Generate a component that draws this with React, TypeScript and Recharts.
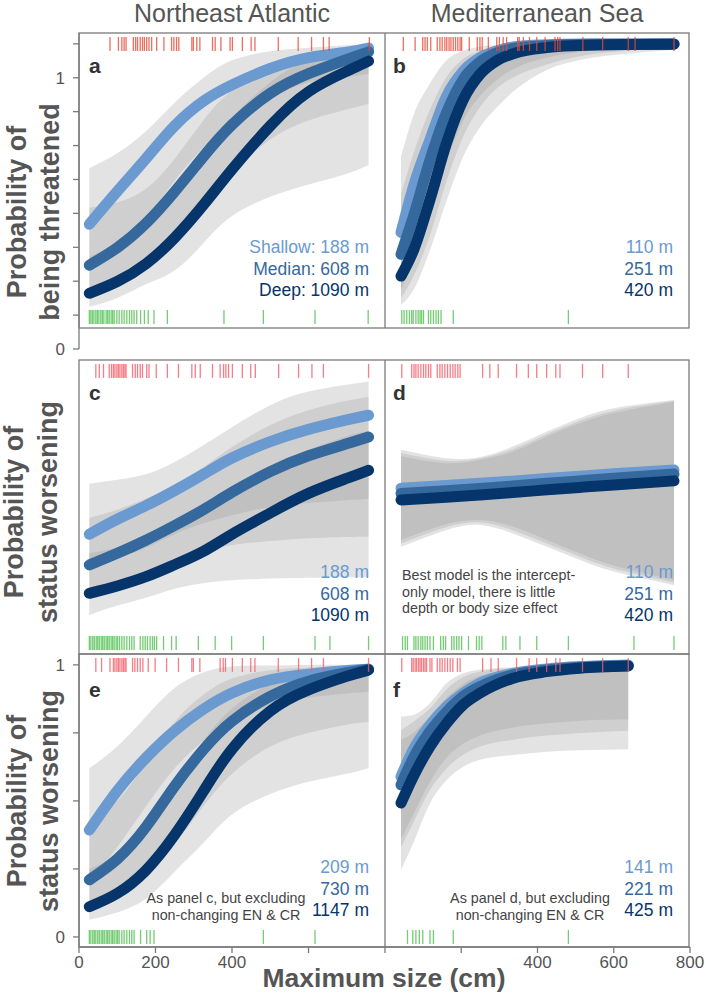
import React from "react";
import { Area, ComposedChart, Line, Scatter, XAxis, YAxis } from "recharts";

const FONT = '"Liberation Sans", Arial, Helvetica, sans-serif';
const AXIS = "#7a7a7a";
const BAND = "#999999";
const SHALLOW = "#6a9ad0";
const MEDIAN = "#35699d";
const DEEP = "#05356a";
const RED_TOP = "#e64a36";
const RED_LOW = "#f25c68";
const GREEN = "#4fbf4f";

// x ticks (cm) and probability ticks
const sizeTicks = [0, 200, 400, 600, 800];
const probTicks = [0, 0.25, 0.5, 0.75, 1];
const eighthTicks = [0, 0.125, 0.25, 0.375, 0.5, 0.625, 0.75, 0.875, 1, 1.125];

// ---------- Northeast Atlantic grid (a, c, e) ----------
const atlanticSize = [27, 100, 175, 250, 325, 400, 500, 600, 700, 757];

// a: probability of being threatened, NE Atlantic
const aShallow = [0.34, 0.46, 0.58, 0.7, 0.79, 0.85, 0.91, 0.95, 0.97, 0.985];
const aMedian = [0.19, 0.254, 0.343, 0.459, 0.587, 0.704, 0.819, 0.891, 0.943, 0.971];
const aDeep = [0.087, 0.13, 0.195, 0.29, 0.41, 0.54, 0.7, 0.825, 0.9, 0.937];
const aShallowLo = [0.17, 0.25, 0.36, 0.5, 0.62, 0.71, 0.8, 0.86, 0.88, 0.89];
const aShallowHi = [0.545, 0.6, 0.68, 0.785, 0.875, 0.94, 0.973, 0.986, 0.995, 1.0];
const aMedianLo = [0.08, 0.12, 0.19, 0.28, 0.41, 0.53, 0.65, 0.72, 0.76, 0.78];
const aMedianHi = [0.4, 0.42, 0.47, 0.58, 0.72, 0.83, 0.92, 0.96, 0.985, 0.995];
const aDeepLo = [0.038, 0.07, 0.12, 0.17, 0.27, 0.37, 0.44, 0.485, 0.525, 0.557];
const aDeepHi = [0.22, 0.27, 0.34, 0.45, 0.6, 0.73, 0.86, 0.94, 0.97, 0.985];
const aRed = [81, 103, 112, 118, 123, 142, 148, 153, 160, 166, 171, 177, 183, 190, 203, 222, 242, 248, 255, 261, 295, 299, 308, 316, 349, 356, 371, 395, 401, 427, 450, 460, 521, 573, 608, 639, 654, 759];
const aGreen = [27, 31, 35, 39, 44, 48, 52, 57, 61, 65, 71, 75, 79, 84, 88, 92, 99, 105, 112, 118, 125, 132, 138, 144, 151, 161, 171, 181, 196, 231, 379, 482, 617, 756];

// c: probability of status worsening, NE Atlantic
const cShallow = [0.4, 0.455, 0.505, 0.56, 0.62, 0.68, 0.74, 0.785, 0.82, 0.837];
const cMedian = [0.287, 0.33, 0.378, 0.432, 0.49, 0.554, 0.63, 0.688, 0.732, 0.757];
const cDeep = [0.183, 0.21, 0.244, 0.288, 0.337, 0.4, 0.478, 0.55, 0.605, 0.635];
const cShallowLo = [0.27, 0.31, 0.35, 0.4, 0.44, 0.47, 0.5, 0.515, 0.525, 0.529];
const cShallowHi = [0.585, 0.6, 0.62, 0.665, 0.727, 0.793, 0.874, 0.924, 0.949, 0.96];
const cMedianLo = [0.17, 0.21, 0.25, 0.29, 0.33, 0.36, 0.375, 0.385, 0.39, 0.391];
const cMedianHi = [0.46, 0.49, 0.53, 0.58, 0.645, 0.72, 0.8, 0.855, 0.89, 0.904];
const cDeepLo = [0.103, 0.138, 0.167, 0.2, 0.22, 0.231, 0.237, 0.24, 0.242, 0.243];
const cDeepHi = [0.33, 0.35, 0.38, 0.42, 0.48, 0.55, 0.64, 0.71, 0.76, 0.78];
const cRed = [44, 53, 64, 79, 85, 90, 94, 99, 103, 107, 112, 116, 120, 123, 140, 147, 153, 160, 166, 177, 183, 202, 231, 260, 295, 304, 317, 349, 369, 378, 384, 391, 401, 427, 449, 461, 522, 574, 609, 639, 757];
const cGreen = [27, 31, 36, 40, 45, 49, 53, 58, 62, 66, 71, 75, 79, 84, 88, 92, 97, 101, 106, 112, 118, 125, 132, 138, 144, 160, 167, 173, 179, 186, 192, 197, 203, 221, 242, 254, 312, 356, 399, 482, 617, 656, 757];

// e: status worsening excluding non-changing EN & CR, NE Atlantic
const eShallow = [0.393, 0.537, 0.658, 0.758, 0.837, 0.897, 0.945, 0.966, 0.979, 0.984];
const eMedian = [0.21, 0.286, 0.404, 0.554, 0.688, 0.793, 0.884, 0.94, 0.971, 0.984];
const eDeep = [0.111, 0.16, 0.245, 0.375, 0.535, 0.69, 0.83, 0.908, 0.958, 0.981];
const eShallowLo = [0.2, 0.33, 0.48, 0.62, 0.72, 0.79, 0.85, 0.88, 0.895, 0.9];
const eShallowHi = [0.62, 0.7, 0.81, 0.915, 0.972, 0.994, 0.998, 1.0, 1.0, 1.0];
const eMedianLo = [0.09, 0.14, 0.22, 0.34, 0.48, 0.6, 0.7, 0.75, 0.78, 0.79];
const eMedianHi = [0.42, 0.5, 0.64, 0.79, 0.89, 0.95, 0.98, 0.99, 0.996, 0.998];
const eDeepLo = [0.063, 0.09, 0.14, 0.24, 0.345, 0.45, 0.525, 0.57, 0.6, 0.62];
const eDeepHi = [0.25, 0.3, 0.4, 0.56, 0.72, 0.84, 0.93, 0.97, 0.985, 0.99];
const eRed = [44, 59, 81, 90, 94, 99, 103, 107, 112, 116, 120, 123, 140, 146, 153, 160, 167, 181, 199, 229, 260, 295, 299, 316, 369, 377, 383, 401, 427, 449, 460, 521, 574, 608, 639, 757];
const eGreen = [27, 31, 36, 40, 44, 49, 53, 58, 62, 66, 71, 75, 79, 84, 88, 92, 97, 101, 105, 112, 118, 125, 132, 138, 144, 161, 177, 186, 196, 482, 617];

// ---------- Mediterranean Sea (b, d, f) ----------
const bSize = [42, 75, 118, 162, 205, 250, 295, 340, 425, 510, 640, 758];
const bShallow = [0.31, 0.48, 0.65, 0.81, 0.9, 0.95, 0.975, 0.99, 0.997, 1.0, 1.0, 1.0];
const bMedian = [0.23, 0.37, 0.575, 0.75, 0.87, 0.935, 0.968, 0.984, 0.994, 0.998, 0.999, 1.0];
const bDeep = [0.15, 0.245, 0.43, 0.64, 0.795, 0.89, 0.94, 0.966, 0.987, 0.994, 0.998, 0.999];
const bShallowLo = [0.1, 0.21, 0.38, 0.57, 0.72, 0.81, 0.87, 0.91, 0.95, 0.97, 0.985, 0.99];
const bShallowHi = [0.587, 0.74, 0.855, 0.941, 0.975, 0.99, 0.996, 1.0, 1.0, 1.0, 1.0, 1.0];
const bMedianLo = [0.07, 0.15, 0.3, 0.5, 0.66, 0.77, 0.84, 0.88, 0.925, 0.955, 0.975, 0.985];
const bMedianHi = [0.45, 0.6, 0.76, 0.88, 0.945, 0.975, 0.99, 0.996, 0.999, 1.0, 1.0, 1.0];
const bDeepLo = [0.044, 0.1, 0.245, 0.428, 0.587, 0.697, 0.77, 0.83, 0.905, 0.941, 0.965, 0.978];
const bDeepHi = [0.32, 0.45, 0.63, 0.8, 0.9, 0.955, 0.978, 0.99, 0.997, 0.999, 1.0, 1.0];
const bRed = [48, 79, 99, 105, 111, 120, 137, 144, 150, 157, 162, 168, 173, 179, 185, 191, 197, 201, 221, 242, 249, 255, 271, 293, 300, 310, 319, 348, 352, 363, 379, 398, 420, 446, 453, 459, 519, 571, 638, 656, 758];
const bGreen = [44, 50, 57, 64, 70, 74, 81, 87, 92, 96, 101, 114, 120, 127, 134, 140, 147, 179, 481];

const dSize = [42, 160, 250, 335, 425, 510, 600, 758];
const dShallow = [0.569, 0.579, 0.587, 0.595, 0.605, 0.613, 0.622, 0.636];
const dMedian = [0.55, 0.56, 0.568, 0.577, 0.587, 0.596, 0.606, 0.621];
const dDeep = [0.526, 0.536, 0.544, 0.553, 0.563, 0.572, 0.581, 0.596];
const dShallowLo = [0.379, 0.437, 0.452, 0.428, 0.379, 0.33, 0.285, 0.231];
const dShallowHi = [0.71, 0.679, 0.684, 0.722, 0.777, 0.826, 0.863, 0.893];
const dMedianLo = [0.366, 0.426, 0.443, 0.415, 0.366, 0.318, 0.274, 0.222];
const dMedianHi = [0.698, 0.67, 0.679, 0.712, 0.768, 0.816, 0.854, 0.89];
const dDeepLo = [0.354, 0.415, 0.434, 0.403, 0.354, 0.306, 0.263, 0.213];
const dDeepHi = [0.686, 0.661, 0.674, 0.703, 0.76, 0.807, 0.845, 0.887];
const dRed = [44, 70, 76, 81, 87, 94, 101, 107, 114, 120, 137, 144, 150, 157, 164, 171, 178, 184, 191, 197, 256, 275, 297, 345, 376, 398, 424, 448, 459, 518, 571, 638];
const dGreen = [46, 53, 59, 76, 81, 87, 94, 99, 105, 111, 118, 127, 146, 153, 159, 175, 181, 188, 194, 201, 219, 240, 247, 254, 309, 317, 354, 398, 481, 653, 758];

const fSize = [42, 74, 118, 162, 205, 249, 336, 424, 511, 638];
const fShallow = [0.589, 0.688, 0.779, 0.847, 0.896, 0.933, 0.969, 0.985, 0.994, 1.0];
const fMedian = [0.559, 0.657, 0.755, 0.828, 0.884, 0.92, 0.963, 0.981, 0.991, 0.997];
const fDeep = [0.492, 0.589, 0.7, 0.786, 0.853, 0.896, 0.951, 0.975, 0.988, 0.996];
const fShallowLo = [0.36, 0.45, 0.57, 0.66, 0.71, 0.74, 0.77, 0.785, 0.795, 0.8];
const fShallowHi = [0.81, 0.816, 0.859, 0.933, 0.969, 0.982, 0.991, 0.995, 0.998, 1.0];
const fMedianLo = [0.33, 0.42, 0.54, 0.62, 0.67, 0.7, 0.725, 0.74, 0.75, 0.758];
const fMedianHi = [0.76, 0.79, 0.84, 0.91, 0.955, 0.975, 0.988, 0.993, 0.996, 0.999];
const fDeepLo = [0.246, 0.344, 0.491, 0.577, 0.626, 0.651, 0.669, 0.681, 0.686, 0.69];
const fDeepHi = [0.724, 0.75, 0.81, 0.88, 0.93, 0.96, 0.98, 0.99, 0.994, 0.996];
const fRed = [44, 70, 74, 79, 83, 88, 92, 96, 101, 105, 109, 118, 123, 137, 144, 150, 157, 164, 171, 178, 190, 197, 256, 278, 297, 345, 378, 398, 424, 448, 459, 518, 571, 638];
const fGreen = [59, 73, 81, 90, 99, 118, 127, 179, 481];

// depth labels per panel
const aDepths = ["Shallow: 188 m", "Median: 608 m", "Deep: 1090 m"];
const bDepths = ["110 m", "251 m", "420 m"];
const cDepths = ["188 m", "608 m", "1090 m"];
const dDepths = ["110 m", "251 m", "420 m"];
const eDepths = ["209 m", "730 m", "1147 m"];
const fDepths = ["141 m", "221 m", "425 m"];

type Row = {
  x: number;
  sh: number;
  md: number;
  dp: number;
  shBand: [number, number];
  mdBand: [number, number];
  dpBand: [number, number];
};

function buildRows(
  size: number[],
  sh: number[],
  md: number[],
  dp: number[],
  shLo: number[],
  shHi: number[],
  mdLo: number[],
  mdHi: number[],
  dpLo: number[],
  dpHi: number[]
): Row[] {
  return size.map((x, i) => ({
    x,
    sh: sh[i],
    md: md[i],
    dp: dp[i],
    shBand: [shLo[i], shHi[i]],
    mdBand: [mdLo[i], mdHi[i]],
    dpBand: [dpLo[i], dpHi[i]],
  }));
}

const rowsA = buildRows(atlanticSize, aShallow, aMedian, aDeep, aShallowLo, aShallowHi, aMedianLo, aMedianHi, aDeepLo, aDeepHi);
const rowsB = buildRows(bSize, bShallow, bMedian, bDeep, bShallowLo, bShallowHi, bMedianLo, bMedianHi, bDeepLo, bDeepHi);
const rowsC = buildRows(atlanticSize, cShallow, cMedian, cDeep, cShallowLo, cShallowHi, cMedianLo, cMedianHi, cDeepLo, cDeepHi);
const rowsD = buildRows(dSize, dShallow, dMedian, dDeep, dShallowLo, dShallowHi, dMedianLo, dMedianHi, dDeepLo, dDeepHi);
const rowsE = buildRows(atlanticSize, eShallow, eMedian, eDeep, eShallowLo, eShallowHi, eMedianLo, eMedianHi, eDeepLo, eDeepHi);
const rowsF = buildRows(fSize, fShallow, fMedian, fDeep, fShallowLo, fShallowHi, fMedianLo, fMedianHi, fDeepLo, fDeepHi);

const rug = (color: string) => (p: any) => (
  <line
    x1={p.cx}
    x2={p.cx}
    y1={p.cy - 7}
    y2={p.cy + 7}
    stroke={color}
    strokeWidth={1.3}
    strokeOpacity={0.8}
  />
);

const fmt01 = (v: number) => (v === 0 || v === 1 ? String(v) : "");
const tickStyle = { fontSize: 17, fill: "#555", fontFamily: FONT };

type PanelProps = {
  left: number;
  top: number;
  width: number;
  height: number;
  margin: { top: number; right: number; bottom: number; left: number };
  rows: Row[];
  red: number[];
  green: number[];
  redColor: string;
  yDomain: [number, number];
  curve: "natural" | "monotone";
  showY?: boolean;
  labelAxis?: boolean;
  xSide?: "left" | "right";
};

function Panel(props: PanelProps) {
  const { left, top, width, height, margin, rows, red, green, redColor, yDomain, curve, showY, labelAxis, xSide } = props;
  const xFmt = (v: number) => {
    if (xSide === "left") return v <= 400 ? String(v) : "";
    if (xSide === "right") return v >= 400 ? String(v) : "";
    return "";
  };
  return (
    <div style={{ position: "absolute", left, top }}>
      <ComposedChart width={width} height={height} data={rows} margin={margin}>
        <XAxis
          dataKey="x"
          type="number"
          domain={[0, 800]}
          allowDataOverflow
          hide={!xSide}
          ticks={sizeTicks}
          interval={0}
          tickFormatter={xFmt}
          tickSize={6}
          tickMargin={3}
          height={34}
          axisLine={{ stroke: AXIS, strokeWidth: 1.3 }}
          tickLine={{ stroke: AXIS, strokeWidth: 1.3 }}
          tick={tickStyle}
        />
        <YAxis
          yAxisId="v"
          type="number"
          domain={yDomain}
          allowDataOverflow
          hide={!showY}
          ticks={probTicks}
          interval={0}
          tickFormatter={fmt01}
          width={79}
          tickSize={6}
          tickMargin={8}
          axisLine={{ stroke: AXIS, strokeWidth: 1.3 }}
          tickLine={{ stroke: AXIS, strokeWidth: 1.3 }}
          tick={tickStyle}
        />
        {labelAxis && (
          <YAxis
            yAxisId="lab"
            type="number"
            domain={[0, 1.165]}
            allowDataOverflow
            ticks={eighthTicks}
            interval={0}
            tickFormatter={fmt01}
            width={79}
            tickSize={6}
            tickMargin={8}
            axisLine={{ stroke: AXIS, strokeWidth: 1.3 }}
            tickLine={{ stroke: AXIS, strokeWidth: 1.3 }}
            tick={tickStyle}
          />
        )}
        <Area yAxisId="v" type={curve} dataKey="shBand" stroke="none" fill={BAND} fillOpacity={0.28} isAnimationActive={false} activeDot={false} />
        <Area yAxisId="v" type={curve} dataKey="mdBand" stroke="none" fill={BAND} fillOpacity={0.28} isAnimationActive={false} activeDot={false} />
        <Area yAxisId="v" type={curve} dataKey="dpBand" stroke="none" fill={BAND} fillOpacity={0.28} isAnimationActive={false} activeDot={false} />
        <Line yAxisId="v" type={curve} dataKey="sh" stroke={SHALLOW} strokeWidth={11} strokeLinecap="round" dot={false} activeDot={false} isAnimationActive={false} />
        <Line yAxisId="v" type={curve} dataKey="md" stroke={MEDIAN} strokeWidth={11} strokeLinecap="round" dot={false} activeDot={false} isAnimationActive={false} />
        <Line yAxisId="v" type={curve} dataKey="dp" stroke={DEEP} strokeWidth={11} strokeLinecap="round" dot={false} activeDot={false} isAnimationActive={false} />
        <Scatter yAxisId="v" data={red.map((x) => ({ x, y: 1 }))} dataKey="y" shape={rug(redColor)} isAnimationActive={false} />
        <Scatter yAxisId="v" data={green.map((x) => ({ x, y: 0 }))} dataKey="y" shape={rug(GREEN)} isAnimationActive={false} />
      </ComposedChart>
    </div>
  );
}

function DepthLabels({ x, y, labels }: { x: number; y: number; labels: string[] }) {
  const colors = [SHALLOW, MEDIAN, DEEP];
  return (
    <g>
      {labels.map((t, i) => (
        <text key={t + i} x={x} y={y + i * 21.5} textAnchor="end" fontSize={17.5} fill={colors[i]}>
          {t}
        </text>
      ))}
    </g>
  );
}

function YTitle({ cy, x1, x2, line2 }: { cy: number; x1: number; x2: number; line2: string }) {
  return (
    <g fontWeight="bold" fontSize={27} fill="#555" textAnchor="middle">
      <text transform={`translate(${x1},${cy}) rotate(-90)`}>Probability of</text>
      <text transform={`translate(${x2},${cy}) rotate(-90)`}>{line2}</text>
    </g>
  );
}

export default function App() {
  return (
    <div style={{ position: "absolute", left: 0, top: 0, width: 706, height: 993, background: "#fff", fontFamily: FONT }}>
      <Panel left={0} top={33} width={385} height={328} margin={{ top: 0, right: 0, bottom: 12, left: 0 }}
        rows={rowsA} red={aRed} green={aGreen} redColor={RED_TOP} yDomain={[-0.117, 1.04]} curve="natural" labelAxis />
      <Panel left={385} top={33} width={305} height={295} margin={{ top: 0, right: 0, bottom: 0, left: 0 }}
        rows={rowsB} red={bRed} green={bGreen} redColor={RED_TOP} yDomain={[-0.04, 1.04]} curve="monotone" />
      <Panel left={0} top={360} width={385} height={294} margin={{ top: 0, right: 0, bottom: 0, left: 79 }}
        rows={rowsC} red={cRed} green={cGreen} redColor={RED_LOW} yDomain={[-0.04, 1.04]} curve="natural" />
      <Panel left={385} top={360} width={305} height={294} margin={{ top: 0, right: 0, bottom: 0, left: 0 }}
        rows={rowsD} red={dRed} green={dGreen} redColor={RED_LOW} yDomain={[-0.04, 1.04]} curve="natural" />
      <Panel left={0} top={654} width={385} height={327} margin={{ top: 0, right: 0, bottom: 0, left: 0 }}
        rows={rowsE} red={eRed} green={eGreen} redColor={RED_LOW} yDomain={[-0.037, 1.04]} curve="natural" showY xSide="left" />
      <Panel left={385} top={654} width={321} height={327} margin={{ top: 0, right: 16, bottom: 0, left: 0 }}
        rows={rowsF} red={fRed} green={fGreen} redColor={RED_LOW} yDomain={[-0.037, 1.04]} curve="monotone" xSide="right" />

      <svg width={706} height={993} style={{ position: "absolute", left: 0, top: 0, pointerEvents: "none" }} fontFamily={FONT}>
        {/* panel frames */}
        <g fill="none" stroke={AXIS} strokeWidth={1.3}>
          <rect x={79} y={33} width={610} height={295} />
          <line x1={385} x2={385} y1={33} y2={328} />
          <rect x={79} y={360} width={610} height={294} />
          <line x1={385} x2={385} y1={360} y2={654} />
          <rect x={79} y={654} width={610} height={293} />
          <line x1={385} x2={385} y1={654} y2={947} />
        </g>

        <text x={232} y={22} fontSize={25} fill="#555" textAnchor="middle">Northeast Atlantic</text>
        <text x={537} y={22} fontSize={25} fill="#555" textAnchor="middle">Mediterranean Sea</text>

        <YTitle cy={212} x1={26} x2={59} line2="being threatened" />
        <YTitle cy={512} x1={23} x2={57} line2="status worsening" />
        <YTitle cy={801} x1={26} x2={58} line2="status worsening" />

        <text x={384} y={987} fontSize={26.5} fontWeight="bold" fill="#555" textAnchor="middle">Maximum size (cm)</text>

        <g fontSize={21} fontWeight="bold" fill="#333">
          <text x={89} y={73}>a</text>
          <text x={393} y={73}>b</text>
          <text x={89} y={400}>c</text>
          <text x={393} y={400}>d</text>
          <text x={89} y={697}>e</text>
          <text x={393} y={697}>f</text>
        </g>

        <DepthLabels x={369} y={253} labels={aDepths} />
        <DepthLabels x={673} y={253} labels={bDepths} />
        <DepthLabels x={369} y={578} labels={cDepths} />
        <DepthLabels x={673} y={578} labels={dDepths} />
        <DepthLabels x={369} y={873} labels={eDepths} />
        <DepthLabels x={673} y={873} labels={fDepths} />

        <g fontSize={14.3} fill="#444">
          <text x={402} y={580}>Best model is the intercept-</text>
          <text x={402} y={597}>only model, there is little</text>
          <text x={402} y={613}>depth or body size effect</text>
        </g>
        <g fontSize={14.3} fill="#444" textAnchor="middle">
          <text x={226} y={903}>As panel c, but excluding</text>
          <text x={226} y={920}>non-changing EN &amp; CR</text>
          <text x={530} y={903}>As panel d, but excluding</text>
          <text x={530} y={920}>non-changing EN &amp; CR</text>
        </g>
      </svg>
    </div>
  );
}
